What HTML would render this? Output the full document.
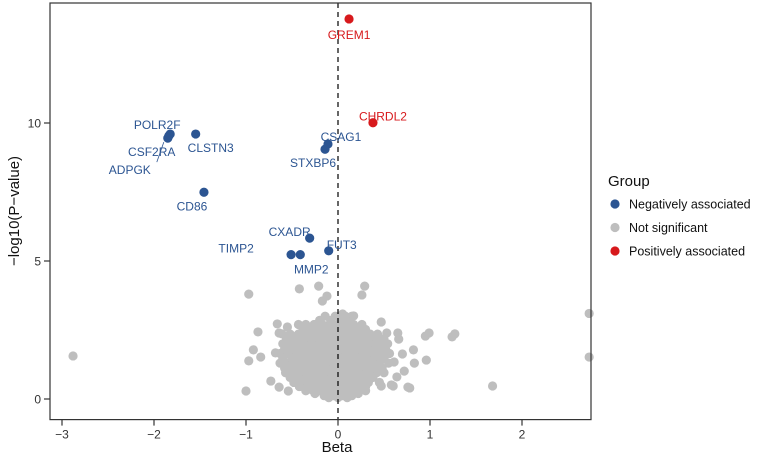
<!DOCTYPE html>
<html><head><meta charset="utf-8"><style>
body{margin:0;background:#fff;}
svg{font-family:"Liberation Sans","DejaVu Sans",sans-serif;}
</style></head><body>
<svg id="chart" width="777" height="460" viewBox="0 0 777 460"></svg>
<script>
// ---- data ----
const xTicks=[-3,-2,-1,0,1,2];
const yTicks=[0,5,10];
// non-significant points (beta, -log10 p)
const grayBeta=[
-0.14,-0.03,0.08,0.15,
-0.43,-0.35,-0.26,-0.17,-0.09,0,0.09,0.17,0.26,
-0.52,-0.43,-0.35,-0.26,-0.17,-0.09,0,0.09,0.17,0.26,0.35,0.43,
-0.6,-0.51,-0.42,-0.33,-0.24,-0.15,-0.06,0.03,0.12,0.21,0.3,0.39,0.48,0.54,
-0.63,-0.54,-0.45,-0.36,-0.27,-0.18,-0.09,0,0.09,0.18,0.27,0.36,0.45,0.56,
-0.63,-0.54,-0.45,-0.36,-0.27,-0.18,-0.09,0,0.09,0.18,0.27,0.36,0.45,0.55,
-0.57,-0.48,-0.39,-0.3,-0.21,-0.12,-0.03,0.06,0.15,0.24,0.33,0.42,0.5,
-0.48,-0.39,-0.3,-0.21,-0.12,-0.03,0.06,0.15,0.24,0.33,0.45,
-0.35,-0.27,-0.19,-0.11,-0.03,0.05,0.13,0.21,0.3,
-0.15,-0.05,0.05,0.15,
-0.2,-0.08,0.04,0.12,
-0.38,-0.3,-0.21,-0.13,-0.04,0.05,0.13,0.22,0.3,
-0.56,-0.47,-0.38,-0.29,-0.2,-0.11,-0.02,0.07,0.16,0.25,0.34,0.42,0.5,
-0.58,-0.49,-0.4,-0.31,-0.22,-0.13,-0.04,0.05,0.14,0.23,0.32,0.41,0.5,
-0.6,-0.5,-0.41,-0.32,-0.23,-0.14,-0.05,0.04,0.13,0.22,0.31,0.4,0.5,
-0.58,-0.5,-0.41,-0.32,-0.23,-0.14,-0.05,0.04,0.13,0.22,0.31,0.4,0.48,
-0.52,-0.43,-0.34,-0.25,-0.16,-0.07,0.02,0.11,0.2,0.29,0.38,
-0.42,-0.33,-0.24,-0.15,-0.06,0.03,0.12,0.21,0.3,
-0.25,-0.1,0.0,0.1,0.22,
-0.97,-0.42,-0.21,-0.12,-0.17,0.29,0.26,0.05,0.17,0.47,-0.87,-0.66,-0.55,-0.64,-0.61,
-0.92,-0.97,-0.84,-0.68,-0.73,-1.0,-0.64,-0.54,0.65,0.66,0.53,0.49,0.82,0.70,0.83,0.96,
0.99,0.95,0.61,0.72,0.64,0.76,0.58,0.47,0.47,0.52,0.46,0.60,0.78,1.68,-2.88,2.73,2.73,1.27,1.24
];
const grayLogp=[
3.0,3.0,3.0,3.0,
2.7,2.7,2.7,2.7,2.7,2.7,2.7,2.7,2.7,
2.35,2.35,2.35,2.35,2.35,2.35,2.35,2.35,2.35,2.35,2.35,2.35,
2.0,2.0,2.0,2.0,2.0,2.0,2.0,2.0,2.0,2.0,2.0,2.0,2.0,2.0,
1.65,1.65,1.65,1.65,1.65,1.65,1.65,1.65,1.65,1.65,1.65,1.65,1.65,1.65,
1.3,1.3,1.3,1.3,1.3,1.3,1.3,1.3,1.3,1.3,1.3,1.3,1.3,1.3,
0.95,0.95,0.95,0.95,0.95,0.95,0.95,0.95,0.95,0.95,0.95,0.95,0.95,
0.6,0.6,0.6,0.6,0.6,0.6,0.6,0.6,0.6,0.6,0.6,
0.3,0.3,0.3,0.3,0.3,0.3,0.3,0.3,0.3,
0.12,0.12,0.12,0.12,
2.85,2.85,2.85,2.85,
2.52,2.52,2.52,2.52,2.52,2.52,2.52,2.52,2.52,
2.18,2.18,2.18,2.18,2.18,2.18,2.18,2.18,2.18,2.18,2.18,2.18,2.18,
1.82,1.82,1.82,1.82,1.82,1.82,1.82,1.82,1.82,1.82,1.82,1.82,1.82,
1.47,1.47,1.47,1.47,1.47,1.47,1.47,1.47,1.47,1.47,1.47,1.47,1.47,
1.12,1.12,1.12,1.12,1.12,1.12,1.12,1.12,1.12,1.12,1.12,1.12,1.12,
0.78,0.78,0.78,0.78,0.78,0.78,0.78,0.78,0.78,0.78,0.78,
0.45,0.45,0.45,0.45,0.45,0.45,0.45,0.45,0.45,
0.2,0.05,0.05,0.05,0.2,
3.80,3.99,4.09,3.73,3.55,4.09,3.77,3.08,3.01,2.79,2.43,2.72,2.61,2.39,2.36,
1.78,1.38,1.52,1.67,0.65,0.29,0.43,0.29,2.39,2.17,2.39,2.14,1.78,1.63,1.30,1.41,
2.39,2.28,1.34,1.01,0.80,0.43,0.51,0.47,1.78,1.78,1.49,0.47,0.40,0.47,1.56,3.1,1.52,2.36,2.25
];
const negGenes=["POLR2F","CSF2RA","ADPGK","CLSTN3","CSAG1","STXBP6","CD86","CXADR","TIMP2","MMP2","FUT3"];
const negBeta=[-1.824,-1.84,-1.85,-1.547,-0.109,-0.141,-1.457,-0.308,-0.51,-0.41,-0.101];
const negLogp=[9.60,9.53,9.45,9.60,9.24,9.05,7.49,5.83,5.23,5.23,5.37];
const posGenes=["GREM1","CHRDL2"];
const posBeta=[0.12,0.38];
const posLogp=[13.77,10.01];

// ---- layout ----
const L=50,R=591,T=3,B=419.6;
const x0=338,xs=92,y0=399,ys=27.6;
const X=v=>x0+v*xs, Y=v=>y0-v*ys;
const NS="http://www.w3.org/2000/svg";
const svg=document.getElementById('chart');
function mk(tag,attrs,parent){const e=document.createElementNS(NS,tag);for(const k in attrs)e.setAttribute(k,attrs[k]);(parent||svg).appendChild(e);return e;}

const labelOff={POLR2F:[-13,-9],CSF2RA:[-17,16],ADPGK:[-38,32],CLSTN3:[15,14],CSAG1:[13,-7],STXBP6:[-12,14],CD86:[-12,14],CXADR:[-20,-6],TIMP2:[-55,-6],MMP2:[11,15],FUT3:[13,-6],GREM1:[0,16],CHRDL2:[10,-6]};

const gG=mk('g',{});


for(let i=0;i<grayBeta.length;i++){
  const c=mk('circle',{cx:X(grayBeta[i]),cy:Y(grayLogp[i]),r:4.6,fill:'#bebebe'},gG);
  
  
}
const dl=mk('line',{x1:X(0),x2:X(0),y1:T,y2:B,stroke:'#000','stroke-width':1.2,'stroke-dasharray':'5,4'});



function drawSet(genes,bs,ls,col,name){
  for(let i=0;i<genes.length;i++){
    const px=X(bs[i]),py=Y(ls[i]);
    const c=mk('circle',{cx:px,cy:py,r:4.6,fill:col});
    
    
    const o=labelOff[genes[i]];
    const t=mk('text',{x:px+o[0],y:py+o[1]+4,'text-anchor':'middle','font-size':12,fill:col});
    t.textContent=genes[i];
    
    
  }
}
drawSet(negGenes,negBeta,negLogp,'#2c5592','point-negative');
drawSet(posGenes,posBeta,posLogp,'#d7191c','point-positive');
const ll=mk('line',{x1:X(negBeta[2])-4,y1:Y(negLogp[2])+4,x2:X(negBeta[2])-11,y2:Y(negLogp[2])+24,stroke:'#2c5592','stroke-width':0.8});



const pb=mk('rect',{x:L,y:T,width:R-L,height:B-T,fill:'none',stroke:'#333','stroke-width':1.2});



xTicks.forEach(v=>{
  const tk=mk('line',{x1:X(v),x2:X(v),y1:B,y2:B+6,stroke:'#333','stroke-width':1.2});
  
  
  const t=mk('text',{x:X(v),y:B+19,'text-anchor':'middle','font-size':12,fill:'#333'});
  t.textContent=v<0?'\u2212'+Math.abs(v):String(v);
  
  
});
yTicks.forEach(v=>{
  const tk=mk('line',{x1:L-6,x2:L,y1:Y(v),y2:Y(v),stroke:'#333','stroke-width':1.2});
  
  
  const t=mk('text',{x:L-9,y:Y(v)+4.5,'text-anchor':'end','font-size':12,fill:'#333'});
  t.textContent=String(v);
  
  
});
const xt=mk('text',{x:337,y:452,'text-anchor':'middle','font-size':15,fill:'#111'});
xt.textContent='Beta';


const yt=mk('text',{x:0,y:0,'text-anchor':'middle','font-size':15,fill:'#111',transform:'translate(19,211) rotate(-90)'});
yt.textContent='\u2212log10(P\u2212value)';



const lg=mk('g',{});


const lt=mk('text',{x:608,y:186,'font-size':15,fill:'#111'},lg);
lt.textContent='Group';


const legLabels=['Negatively associated','Not significant','Positively associated'];
const legCols=['#2c5592','#bebebe','#d7191c'];
legLabels.forEach((s,i)=>{
  const cy=204+i*23.5;
  const c=mk('circle',{cx:615,cy:cy,r:4.6,fill:legCols[i]},lg);
  
  
  const t=mk('text',{x:629,y:cy+4.5,'font-size':12.5,fill:'#111'},lg);
  t.textContent=s;
  
  
});
</script>
</body></html>
